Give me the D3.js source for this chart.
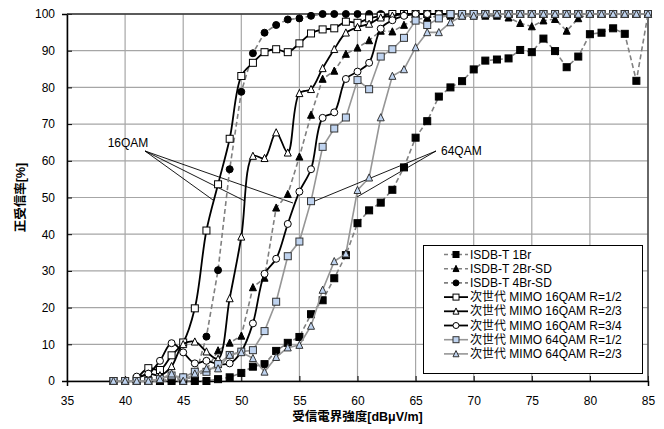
<!DOCTYPE html>
<html>
<head>
<meta charset="utf-8">
<script src="https://cdn.jsdelivr.net/npm/d3@7"></script>
<style>
  body { margin: 0; background: #fff; }
  svg { font-family: "Liberation Sans", Arial, "Noto Sans CJK JP", sans-serif; }
</style>
</head>
<body>
<div id="chart"></div>
<script>
// received field strength [dBuV/m]
const dbuv = [39,40,41,42,43,44,45,46,47,48,49,50,51,52,53,54,55,56,57,58,59,60,61,62,
  63,64,65,66,67,68,69,70,71,72,73,74,75,76,77,78,79,80,81,82,83,84,85];

// success rate [%] for each system, one value per dbuv entry (null = not measured)
const isdb1Br = [0,0,0,0,0,0,0,0,0,0.5,1,2.2,3.9,4.6,8.2,10.4,12,18.2,22,28,34.3,43,46.5,48.6,
  52.1,58.2,66.3,70.8,77.5,80,81.7,84.9,87.3,87.6,87.9,90.2,89.6,93.3,89.9,85.5,88.4,94.5,94.9,96.1,94.6,81.8,100];
const isdb2Br = [0,0,0,0,0,0.5,0.5,1,3,8.3,10.4,12.3,25.5,28.1,47.2,50.9,61.1,72.5,82.3,84.5,89.1,90.8,92.8,95.4,
  95.2,97,98.5,99,99.5,99.5,99.5,99.5,99.5,99.5,99,97.5,96.6,98.2,98.6,95.4,98.8,100,100,100,100,100,100];
const isdb4Br = [0,0,0,0,0,0.5,1,1,12.1,30.2,57.7,78.8,89.3,94.9,97,98.5,98.8,99.5,100,100,100,100,100,100,
  100,100,100,100,100,100,100,100,100,100,100,100,100,100,100,100,100,100,100,100,100,100,100];
const mimo16r12 = [null,null,0.5,3.5,3,7,10.5,19.8,41,53.6,66,83.1,86.7,89.6,90.4,89.6,92,94.7,95.8,96.1,97.9,97.6,98.8,99.5,
  100,100,100,100,100,100,100,100,100,100,100,100,100,100,100,100,100,100,100,100,100,100,100];
const mimo16r23 = [null,null,0.5,2,1.5,4,10,10.7,8,6,22.5,39.3,61.3,60.7,67.7,62.2,78.4,79.5,85.2,90.4,94.9,96.4,97.3,99,
  99.5,100,100,100,100,100,100,100,100,100,100,100,100,100,100,100,100,100,100,100,100,100,100];
const mimo16r34 = [null,null,1.2,2,5.5,10.3,7.8,4.8,5.5,4.6,4.8,8,15.7,29.2,33.3,42.8,51.6,57.7,71.7,73.2,82.3,84.3,86.7,96,
  98.3,99.5,100,100,100,100,100,100,100,100,100,100,100,100,100,100,100,100,100,100,100,100,100];
const mimo64r12 = [0,0,0,0,0.5,1.5,1,2.5,2.5,4.6,7.1,8,8.4,13.6,21.6,34,38,49,63.8,68.8,71.8,82,79.5,88.4,
  90.4,93.5,98.2,97,98.8,100,100,100,100,100,100,100,100,100,100,100,100,100,100,100,100,100,100];
const mimo64r23 = [0,0,0,0,0.5,2,0,2,3.4,3.4,7.1,7.8,6.2,2.5,6.5,9.1,9.8,15,24.8,32.6,34.7,52,55.4,71.8,
  83.1,84.9,90.9,95,95,97.7,99.5,99.5,100,100,100,100,100,100,100,100,100,100,100,100,100,100,100];

const seriesNames = ["ISDB-T 1Br", "ISDB-T 2Br-SD", "ISDB-T 4Br-SD",
  "次世代 MIMO 16QAM R=1/2", "次世代 MIMO 16QAM R=2/3", "次世代 MIMO 16QAM R=3/4",
  "次世代 MIMO 64QAM R=1/2", "次世代 MIMO 64QAM R=2/3"];
const seriesValues = [isdb1Br, isdb2Br, isdb4Br, mimo16r12, mimo16r23, mimo16r34, mimo64r12, mimo64r23];

const xTicks = [35,40,45,50,55,60,65,70,75,80,85];
const yTicks = [0,10,20,30,40,50,60,70,80,90,100];

// style per series
const styles = [
  { line: "#808080", dash: "5,3", width: 1.6, shape: "square", fill: "#000", stroke: "#000", smooth: false },
  { line: "#808080", dash: "5,3", width: 1.6, shape: "triangle", fill: "#000", stroke: "#000", smooth: false },
  { line: "#808080", dash: "5,3", width: 1.6, shape: "circle", fill: "#000", stroke: "#000", smooth: false },
  { line: "#000", dash: null, width: 1.8, shape: "square", fill: "#fff", stroke: "#000", smooth: true },
  { line: "#000", dash: null, width: 1.8, shape: "triangle", fill: "#fff", stroke: "#000", smooth: true },
  { line: "#000", dash: null, width: 1.8, shape: "circle", fill: "#fff", stroke: "#000", smooth: true },
  { line: "#969696", dash: null, width: 1.6, shape: "square", fill: "#bfd3ef", stroke: "#333", smooth: false },
  { line: "#969696", dash: null, width: 1.6, shape: "triangle", fill: "#bfd3ef", stroke: "#333", smooth: false }
];

const width = 664;
const height = 429;
const margin = { top: 14, right: 16, bottom: 48, left: 67 };

const svg = d3.select("#chart")
  .append("svg")
  .attr("width", width)
  .attr("height", height);

const x = d3.scaleLinear().domain([35, 85]).range([margin.left, width - margin.right]);
const y = d3.scaleLinear().domain([0, 100]).range([height - margin.bottom, margin.top]);

// grid
svg.append("g")
  .selectAll("line")
  .data(xTicks)
  .enter().append("line")
  .attr("x1", d => x(d)).attr("x2", d => x(d))
  .attr("y1", y(0)).attr("y2", y(100))
  .attr("stroke", "#a6a6a6").attr("stroke-width", 1.2);

svg.append("g")
  .selectAll("line")
  .data(yTicks)
  .enter().append("line")
  .attr("x1", x(35)).attr("x2", x(85))
  .attr("y1", d => y(d)).attr("y2", d => y(d))
  .attr("stroke", "#a6a6a6").attr("stroke-width", 1.2);

// axes
const xAxis = svg.append("g")
  .attr("transform", "translate(0," + y(0) + ")")
  .call(d3.axisBottom(x).tickValues(xTicks).tickSize(5).tickPadding(10));
const yAxis = svg.append("g")
  .attr("transform", "translate(" + x(35) + ",0)")
  .call(d3.axisLeft(y).tickValues(yTicks).tickSize(5).tickPadding(7));

[xAxis, yAxis].forEach(a => {
  a.select(".domain").attr("stroke", "#000").attr("stroke-width", 1.5);
  a.selectAll(".tick line").attr("stroke", "#000");
  a.selectAll(".tick text").attr("font-size", 12).attr("fill", "#000")
    .style("font-family", "'Liberation Sans', Arial, sans-serif");
});
xAxis.selectAll(".tick line").attr("y1", -5).attr("y2", 0);
yAxis.selectAll(".tick line").attr("x1", 5).attr("x2", 0);

// top and right frame
svg.append("line").attr("x1", x(35)).attr("x2", x(85)).attr("y1", y(100)).attr("y2", y(100))
  .attr("stroke", "#333").attr("stroke-width", 1.3);
svg.append("line").attr("x1", x(85)).attr("x2", x(85)).attr("y1", y(100)).attr("y2", y(0))
  .attr("stroke", "#333").attr("stroke-width", 1.3);

// axis titles
svg.append("text")
  .attr("x", (x(35) + x(85)) / 2).attr("y", 421)
  .attr("text-anchor", "middle")
  .attr("font-size", 12.5).attr("font-weight", "bold")
  .text("受信電界強度[dBμV/m]");

svg.append("text")
  .attr("transform", "translate(21," + ((y(0) + y(100)) / 2) + ") rotate(-90)")
  .attr("text-anchor", "middle")
  .attr("dominant-baseline", "central")
  .attr("font-size", 12.5).attr("font-weight", "bold")
  .text("正受信率[%]");

// annotations (drawn below the series)
const ann = svg.append("g").attr("stroke", "#000").attr("stroke-width", 0.9);
[[213, 200], [245, 201], [293, 203]].forEach(p => {
  ann.append("line").attr("x1", 145).attr("y1", 151).attr("x2", p[0]).attr("y2", p[1]);
});
[[310, 203], [357, 197]].forEach(p => {
  ann.append("line").attr("x1", 436).attr("y1", 151).attr("x2", p[0]).attr("y2", p[1]);
});
svg.append("text").attr("x", 128).attr("y", 147).attr("text-anchor", "middle")
  .attr("font-size", 12).text("16QAM");
svg.append("text").attr("x", 441).attr("y", 155)
  .attr("font-size", 12).text("64QAM");

function drawMarker(g, shape, cx, cy, st, size) {
  const s = size || 7;
  if (shape === "square") {
    g.append("rect").attr("x", cx - s / 2).attr("y", cy - s / 2).attr("width", s).attr("height", s)
      .attr("fill", st.fill).attr("stroke", st.stroke).attr("stroke-width", 1);
  } else if (shape === "circle") {
    g.append("circle").attr("cx", cx).attr("cy", cy).attr("r", s / 2)
      .attr("fill", st.fill).attr("stroke", st.stroke).attr("stroke-width", 1);
  } else {
    const h = s * 0.95;
    g.append("path")
      .attr("d", "M" + cx + "," + (cy - h / 2 - 0.5) + "L" + (cx + s / 2) + "," + (cy + h / 2) + "L" + (cx - s / 2) + "," + (cy + h / 2) + "Z")
      .attr("fill", st.fill).attr("stroke", st.stroke).attr("stroke-width", 1);
  }
}

// series
seriesValues.forEach((vals, i) => {
  const st = styles[i];
  const pts = dbuv.map((d, j) => [d, vals[j]]).filter(p => p[1] !== null);
  const line = d3.line()
    .x(p => x(p[0])).y(p => y(p[1]))
    .curve(st.smooth ? d3.curveCatmullRom.alpha(0.5) : d3.curveLinear);
  const g = svg.append("g");
  g.append("path")
    .attr("d", line(pts))
    .attr("fill", "none")
    .attr("stroke", st.line)
    .attr("stroke-width", st.width)
    .attr("stroke-dasharray", st.dash);
  pts.forEach(p => drawMarker(g, st.shape, x(p[0]), y(p[1]), st));
});

// legend
const lg = svg.append("g");
lg.append("rect").attr("x", 423.5).attr("y", 245.5).attr("width", 219).attr("height", 128)
  .attr("fill", "#fff").attr("stroke", "#000").attr("stroke-width", 1);
seriesNames.forEach((name, i) => {
  const st = styles[i];
  const ly = 254.5 + i * 14.2;
  lg.append("line").attr("x1", 444).attr("x2", 468).attr("y1", ly).attr("y2", ly)
    .attr("stroke", st.line).attr("stroke-width", st.width).attr("stroke-dasharray", st.dash ? "4,3" : null);
  drawMarker(lg, st.shape, 456, ly, st, 6);
  lg.append("text").attr("x", 470).attr("y", ly).attr("dominant-baseline", "central")
    .attr("font-size", 12).text(name);
});
</script>
</body>
</html>
